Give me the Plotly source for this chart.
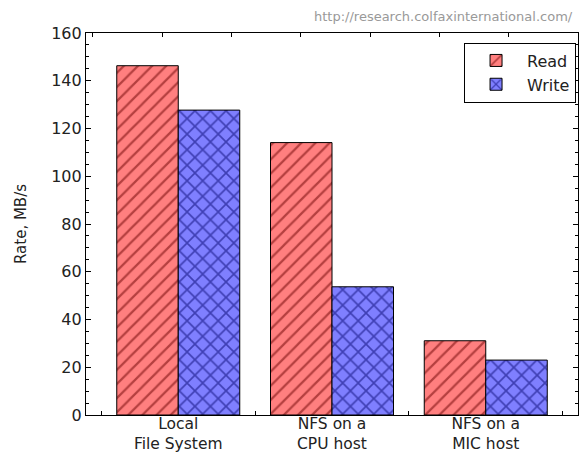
import plotly.graph_objects as go

categories = ["Local<br>File System", "NFS on a<br>CPU host", "NFS on a<br>MIC host"]
read_rates = [146.3, 114.1, 31.1]
write_rates = [127.7, 53.7, 23.0]
series_names = ["Read", "Write"]
yticks = [0, 20, 40, 60, 80, 100, 120, 140, 160]

FONT = "DejaVu Sans"
TXT = "#222222"

fig = go.Figure()
fig.add_trace(go.Bar(
    x=categories, y=read_rates, name=series_names[0],
    marker=dict(color="#ff7f7f", line=dict(color="black", width=1),
                pattern=dict(shape="/", fgcolor="#6a0000", size=10, solidity=0.22, fillmode="overlay")),
))
fig.add_trace(go.Bar(
    x=categories, y=write_rates, name=series_names[1],
    marker=dict(color="#7f7fff", line=dict(color="black", width=1),
                pattern=dict(shape="x", fgcolor="#00006a", size=11, solidity=0.28, fillmode="overlay")),
))
# empty helper trace so the top tick axis is drawn
fig.add_trace(go.Scatter(x=[], y=[], xaxis="x2", showlegend=False, hoverinfo="skip"))

fig.update_layout(
    width=579, height=454,
    margin=dict(l=86, r=1, t=33, b=39, autoexpand=False),
    paper_bgcolor="white", plot_bgcolor="white",
    barmode="group", bargap=0.2, bargroupgap=0,
    font=dict(family=FONT, size=16, color=TXT),
    showlegend=True,
    legend=dict(x=0.996, y=0.975, xanchor="right", yanchor="top",
                bgcolor="white", bordercolor="black", borderwidth=1,
                font=dict(size=16, color=TXT), traceorder="normal",
                itemwidth=52, tracegroupgap=2),
    xaxis=dict(type="category", range=[-0.6, 2.6], showline=True, linecolor="black", linewidth=1.2,
               mirror=True, ticks="inside", ticklen=4, tickcolor="black", tickson="boundaries",
               ticklabelstandoff=-6,
               showgrid=False, zeroline=False, tickfont=dict(size=15.5, color=TXT), automargin=False),
    xaxis2=dict(overlaying="x", side="top", anchor="y", range=[0, 493], tick0=6.7, dtick=69.5,
                ticks="inside", ticklen=4, tickcolor="black", showticklabels=False,
                showgrid=False, showline=False, zeroline=False),
    yaxis=dict(range=[0, 160], tickvals=yticks, showline=True, linecolor="black", linewidth=1.2,
               mirror="ticks", ticks="inside", ticklen=5, tickcolor="black",
               minor=dict(dtick=5, ticks="inside", ticklen=3, tickcolor="black"),
               showgrid=False, zeroline=False, tickfont=dict(size=16, color=TXT), automargin=False,
               title=dict(text="Rate, MB/s", font=dict(size=15, color=TXT), standoff=20)),
    annotations=[dict(text="http://research.colfaxinternational.com/", xref="paper", yref="paper",
                      x=0.994, y=1.042, xanchor="right", yanchor="middle", showarrow=False,
                      font=dict(size=13, color="#999999", family=FONT))],
)

fig.write_html("out.html", config={"displayModeBar": False},
               post_script="document.body.style.margin='0';document.body.style.overflow='hidden';")
